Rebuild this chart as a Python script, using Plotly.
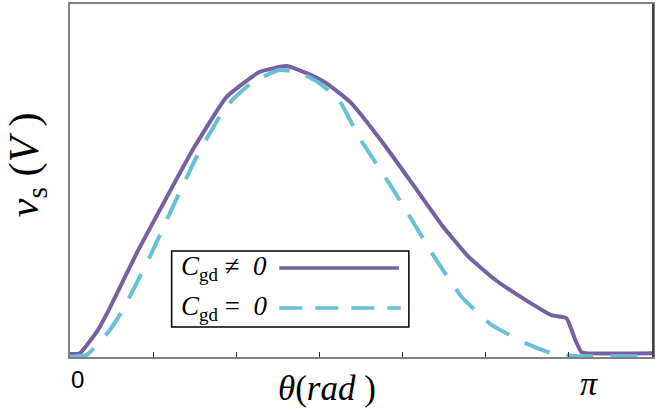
import numpy as np
import plotly.graph_objects as go

# Source voltage over one half period, theta given in multiples of pi
theta_cgd_over_pi = [0, 0.02, 0.056, 0.08, 0.134, 0.2, 0.246, 0.314, 0.38, 0.434,
                     0.46, 0.5, 0.52, 0.564, 0.634, 0.686, 0.746, 0.8, 0.854, 0.914,
                     0.966, 0.996, 1.014, 1.026, 1.034, 1.17]
vs_cgd = [0, 0.003, 0.083, 0.16, 0.351, 0.563, 0.708, 0.892, 0.979, 1.0,
          0.986, 0.955, 0.934, 0.872, 0.719, 0.594, 0.448, 0.337, 0.257, 0.188,
          0.135, 0.125, 0.049, 0.007, 0.003, 0.003]

theta_nocgd_over_pi = [0, 0.034, 0.08, 0.106, 0.16, 0.206, 0.254, 0.3, 0.326, 0.366,
                       0.42, 0.46, 0.5, 0.54, 0.58, 0.64, 0.674, 0.726, 0.786, 0.846,
                       0.914, 0.966, 1.014, 1.17]
vs_nocgd = [-0.01, -0.003, 0.083, 0.153, 0.337, 0.51, 0.684, 0.823, 0.882, 0.944,
            0.986, 0.979, 0.941, 0.882, 0.753, 0.594, 0.5, 0.351, 0.198, 0.101,
            0.038, 0.003, -0.007, -0.008]

tick_fracs = [1 / 6, 2 / 6, 3 / 6, 4 / 6, 5 / 6, 1]
NB = "\u00a0"
legend_labels = [
    f"<i>C</i><sub>gd</sub>{NB}\u2260{NB}{NB}<i>0</i>",
    f"<i>C</i><sub>gd</sub>{NB}={NB}{NB}<i>0</i>",
]

PURPLE = "#7660a0"
CYAN = "#69c0d6"
SERIF = "Liberation Serif, Times New Roman, serif"

W, H = 656, 409
ML, MR, MT, MB = 70, 1, 4, 52
PW, PH = W - ML - MR, H - MT - MB


def px(x):
    return (x - ML) / PW


def py(y):
    return (H - MB - y) / PH


fig = go.Figure()
fig.add_trace(go.Scatter(
    x=np.pi * np.array(theta_cgd_over_pi), y=vs_cgd, mode="lines",
    line=dict(color=PURPLE, width=4, shape="spline", smoothing=0.4),
    showlegend=False, name="Cgd != 0"))
fig.add_trace(go.Scatter(
    x=np.pi * np.array(theta_nocgd_over_pi), y=vs_nocgd, mode="lines",
    line=dict(color=CYAN, width=4, dash="27px,17px", shape="spline", smoothing=0.4),
    showlegend=False, name="Cgd = 0"))

# Legend box with line samples placed after the labels
shapes = [
    dict(type="rect", xref="paper", yref="paper",
         x0=px(172), x1=px(410), y0=py(327), y1=py(251),
         line=dict(color="black", width=1.5), fillcolor="white", layer="above"),
    dict(type="line", xref="paper", yref="paper",
         x0=px(280), x1=px(400), y0=py(268), y1=py(268),
         line=dict(color=PURPLE, width=3.5)),
    dict(type="line", xref="paper", yref="paper",
         x0=px(280), x1=px(402), y0=py(308), y1=py(308),
         line=dict(color=CYAN, width=3.5, dash="23px,13px")),
    # darker right frame edge
    dict(type="line", xref="paper", yref="paper",
         x0=1, x1=1, y0=0, y1=1, line=dict(color="#444444", width=2)),
]

annotations = [
    dict(text=legend_labels[0], xref="paper", yref="paper", x=px(179), y=py(268),
         xanchor="left", yanchor="middle", showarrow=False,
         font=dict(family=SERIF, size=27, color="black")),
    dict(text=legend_labels[1], xref="paper", yref="paper", x=px(179), y=py(308),
         xanchor="left", yanchor="middle", showarrow=False,
         font=dict(family=SERIF, size=27, color="black")),
    dict(text="0", xref="x", yref="paper", x=0, y=py(379), xshift=7,
         xanchor="center", yanchor="middle", showarrow=False,
         font=dict(family="Liberation Sans, Arial, sans-serif", size=24, color="black")),
    dict(text="<i>\u03c0</i>", xref="x", yref="paper", x=np.pi, y=py(384), xshift=21,
         xanchor="center", yanchor="middle", showarrow=False,
         font=dict(family=SERIF, size=34, color="black")),
    dict(text="<i>\u03b8</i>(<i>rad</i>\u00a0)", xref="paper", yref="paper",
         x=px(328), y=py(388), xanchor="center", yanchor="middle", showarrow=False,
         font=dict(family=SERIF, size=35, color="black")),
    dict(text="<i>v</i><sub>s</sub>\u00a0(<i>V</i>\u00a0)", xref="paper", yref="paper",
         x=px(27), y=py(165), xanchor="center", yanchor="middle", showarrow=False,
         textangle=-90, font=dict(family=SERIF, size=42, color="black")),
]

fig.update_layout(
    width=W, height=H,
    margin=dict(l=ML, r=MR, t=MT, b=MB),
    paper_bgcolor="white", plot_bgcolor="white",
    shapes=shapes, annotations=annotations,
    xaxis=dict(range=[0, 1.17 * np.pi], showgrid=False, zeroline=False,
               showline=True, linecolor="#808080", linewidth=2, mirror=True,
               ticks="inside", ticklen=5, tickwidth=1, tickcolor="#333333",
               tickvals=[np.pi * f for f in tick_fracs], showticklabels=False),
    yaxis=dict(range=[-3 / 288, 350 / 288], showgrid=False, zeroline=False,
               showline=True, linecolor="#808080", linewidth=2, mirror=True,
               ticks="", showticklabels=False),
)

fig.write_html("out.html")
